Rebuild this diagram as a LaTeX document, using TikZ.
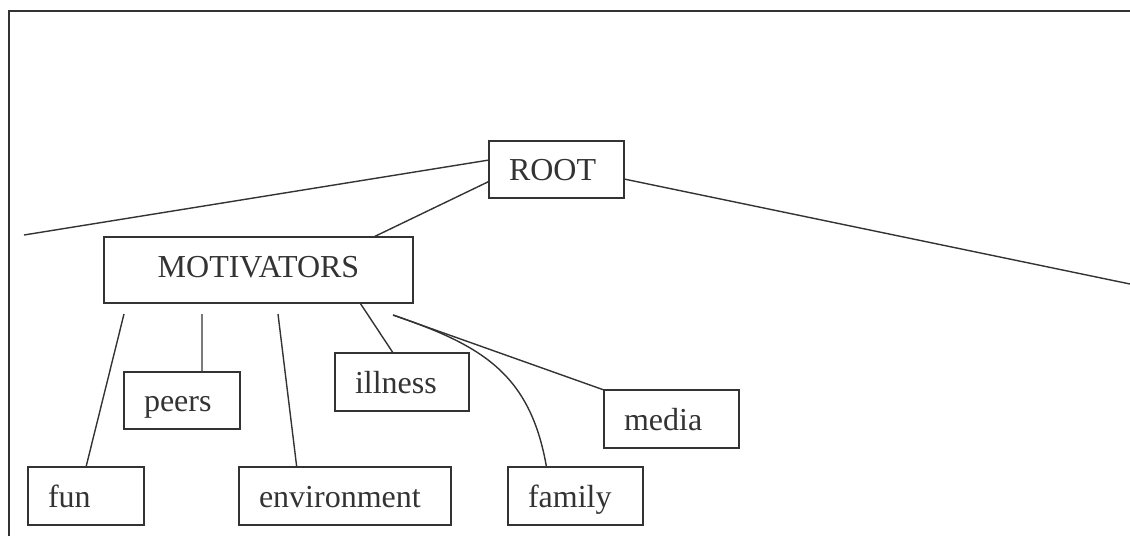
\documentclass[tikz,border=0pt]{standalone}
\usepackage{fontspec}
\setmainfont{Liberation Serif}
\usepackage{tikz}

\tikzset{
  catbox/.style={draw, line width=1.4pt, outer sep=0pt, inner ysep=0pt, inner xsep=20pt,
    align=left, text height=22pt, text depth=0pt, minimum height=58pt},
  link/.style={line width=1.4pt}
}

\begin{document}
\begin{tikzpicture}[x=1pt, y=-1pt, black!80, font=\fontsize{32}{38}\selectfont]
    % Page size in pixels of the scan
    \useasboundingbox (0,0) rectangle (1130,536);

    % Outer frame (open at the bottom and right)
    \draw[line width=1.3pt] (9,536) -- (9,11) -- (1130,11);

    % Root and first level
    \node[catbox, text width=95pt, minimum height=57pt] (root) at (556.5,169.5) {ROOT};
    \node[catbox, text width=269pt, align=center, text depth=8pt, minimum height=66pt] (motiv) at (258.5,270) {MOTIVATORS};

    % Leaves under the motivators
    \node[catbox, text width=76pt, minimum height=57pt] (peers) at (182,400.5) {peers};
    \node[catbox, text width=94pt] (illness) at (402,382) {illness};
    \node[catbox, text width=95pt] (media) at (671.5,419) {media};
    \node[catbox, text width=76pt] (fun) at (86,496) {fun};
    \node[catbox, text width=172pt] (environ) at (345,496) {environment};
    \node[catbox, text width=95pt] (family) at (575.5,496) {family};

    % Free ends of the connectors
    \coordinate (rootleft) at (24,235);
    \coordinate (rootright) at (1130,284);
    \coordinate (funtop) at (124,314);
    \coordinate (peerstop) at (202,314);
    \coordinate (envtop) at (278,314);
    \coordinate (fork) at (393,315);

    % Connectors from the root
    \draw[link] (rootleft) -- (root.172);
    \draw[link] (root.190.5) -- (motiv.16);
    \draw[link] (root.-8) -- (rootright);

    % Connectors to the leaves
    \draw[link] (motiv.-18.5) -- (illness.107);
    \draw[link] (funtop) -- (fun.north);
    \draw[link] (peerstop) -- (peers.55);
    \draw[link] (envtop) -- (environ.149);
    \draw[link] (fork) -- (media.north west);
    \draw[link] (fork) .. controls (480,345) and (530,372) .. (family.135);
\end{tikzpicture}
\end{document}
